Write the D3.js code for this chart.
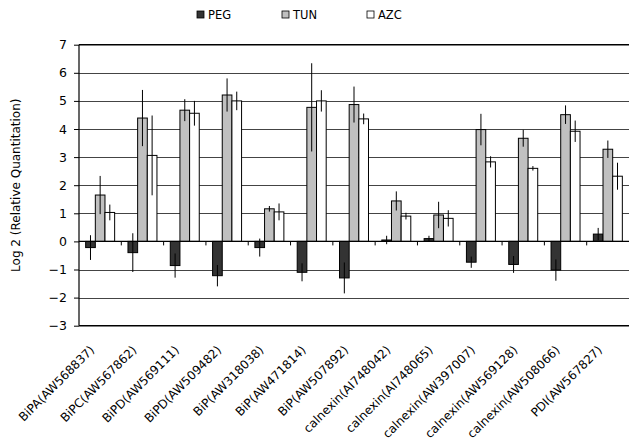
<!DOCTYPE html>
<html><head><meta charset="utf-8">
<script src="https://cdn.jsdelivr.net/npm/d3@7"></script>
<style>body{margin:0;background:#fff}svg{display:block}</style>
</head><body>
<svg id="c" width="629" height="444"></svg>
<script>
const categories = ["BiPA(AW568837)","BiPC(AW567862)","BiPD(AW569111)","BiPD(AW509482)","BiP(AW318038)","BiP(AW471814)","BiP(AW507892)","calnexin(AI748042)","calnexin(AI748065)","calnexin(AW397007)","calnexin(AW569128)","calnexin(AW508066)","PDI(AW567827)"];
const seriesNames = ["PEG","TUN","AZC"];
const peg    = [-0.22,-0.40,-0.86,-1.22,-0.22,-1.10,-1.30,0.05,0.10,-0.74,-0.82,-1.02,0.26];
const pegErr = [0.44,0.69,0.43,0.38,0.32,0.32,0.55,0.15,0.10,0.20,0.30,0.38,0.22];
const tun    = [1.65,4.39,4.67,5.21,1.16,4.77,4.87,1.44,0.94,3.98,3.67,4.51,3.28];
const tunErr = [0.68,1.00,0.39,0.59,0.10,1.57,0.64,0.34,0.47,0.56,0.30,0.33,0.31];
const azc    = [1.03,3.06,4.56,5.00,1.05,5.00,4.36,0.90,0.82,2.83,2.60,3.92,2.32];
const azcErr = [0.28,1.42,0.44,0.33,0.30,0.38,0.19,0.12,0.29,0.20,0.08,0.38,0.48];
const yTicks = [-3,-2,-1,0,1,2,3,4,5,6,7];
const colors = ["#333333","#c0c0c0","#ffffff"];

const values = [peg,tun,azc], errs=[pegErr,tunErr,azcErr];
const svg = d3.select("#c");
const L=79, R=629, T=44.7, B=325.7;
const x = d3.scaleBand().domain(categories).range([L,R]).paddingInner(0.315).paddingOuter(0.1575);
const xs = d3.scaleBand().domain(seriesNames).range([0,x.bandwidth()]);
const y = d3.scaleLinear().domain([-3,7]).range([B,T]);

// grid
svg.append("g").selectAll("line").data(yTicks.filter(t=>t!==7&&t!==-3&&t!==0)).join("line")
  .attr("x1",L).attr("x2",R).attr("y1",d=>Math.round(y(d))+0.5).attr("y2",d=>Math.round(y(d))+0.5)
  .attr("stroke","#444").attr("stroke-width",1);
svg.append("line").attr("x1",L).attr("x2",R).attr("y1",y(7)).attr("y2",y(7)).attr("stroke","#000").attr("stroke-width",1.5);
svg.append("line").attr("x1",L).attr("x2",R).attr("y1",y(-3)).attr("y2",y(-3)).attr("stroke","#000").attr("stroke-width",1.5);

// y axis
const ya = d3.axisLeft(y).tickValues(yTicks).tickSize(5).tickPadding(7).tickFormat(d3.format("d"));
const yg = svg.append("g").attr("transform",`translate(${L},0)`).call(ya);
yg.select(".domain").remove();
yg.selectAll(".tick line").attr("stroke","#000");
yg.selectAll("text").attr("font-family","DejaVu Sans, Verdana, sans-serif").attr("font-size","12.5px").attr("fill","#000");
svg.append("line").attr("x1",L).attr("x2",L).attr("y1",T).attr("y2",B).attr("stroke","#000").attr("stroke-width",1.2);

// bars
seriesNames.forEach((s,si)=>{
  const g = svg.append("g");
  g.selectAll("rect").data(categories).join("rect")
    .attr("x",c=>x(c)+xs(s)).attr("width",xs.bandwidth())
    .attr("y",(c,i)=>y(Math.max(0,values[si][i]))).attr("height",(c,i)=>Math.abs(y(values[si][i])-y(0)))
    .attr("fill",colors[si]).attr("stroke","#000").attr("stroke-width",1);
});
// zero line + category ticks
svg.append("line").attr("x1",L).attr("x2",R).attr("y1",y(0)).attr("y2",y(0)).attr("stroke","#000").attr("stroke-width",1.2);
const step = x.step();
svg.append("g").selectAll("line").data(categories.slice(1)).join("line")
  .attr("x1",c=>x(c)-x.paddingInner()*step/2).attr("x2",c=>x(c)-x.paddingInner()*step/2)
  .attr("y1",y(0)).attr("y2",y(0)+4).attr("stroke","#000");
// error bars
seriesNames.forEach((s,si)=>{
  svg.append("g").selectAll("line").data(categories).join("line")
    .attr("x1",c=>x(c)+xs(s)+xs.bandwidth()/2).attr("x2",c=>x(c)+xs(s)+xs.bandwidth()/2)
    .attr("y1",(c,i)=>y(values[si][i]+errs[si][i])).attr("y2",(c,i)=>y(values[si][i]-errs[si][i]))
    .attr("stroke","#000").attr("stroke-width",1);
});

// x labels
svg.append("g").selectAll("text").data(categories).join("text")
  .attr("transform",c=>`translate(${x(c)+x.bandwidth()/2-8},${B+22}) rotate(-45)`)
  .attr("text-anchor","end").attr("dy","0.35em")
  .attr("font-family","DejaVu Sans, Verdana, sans-serif").attr("font-size","12px").text(d=>d);

// y title
svg.append("text").attr("transform",`translate(20,${(T+B)/2}) rotate(-90)`)
  .attr("text-anchor","middle").attr("font-family","DejaVu Sans, Verdana, sans-serif").attr("font-size","12px").text("Log 2 (Relative Quantitation)");

// legend
const legX=[197,282,367];
const lg = svg.append("g").selectAll("g").data(seriesNames).join("g").attr("transform",(d,i)=>`translate(${legX[i]},11)`);
lg.append("rect").attr("width",7).attr("height",7).attr("fill",(d,i)=>colors[i]).attr("stroke","#000").attr("stroke-width",0.8);
lg.append("text").attr("x",11).attr("y",7.5).attr("font-family","DejaVu Sans, Verdana, sans-serif").attr("font-size","11.5px").text(d=>d);
</script>
</body></html>
